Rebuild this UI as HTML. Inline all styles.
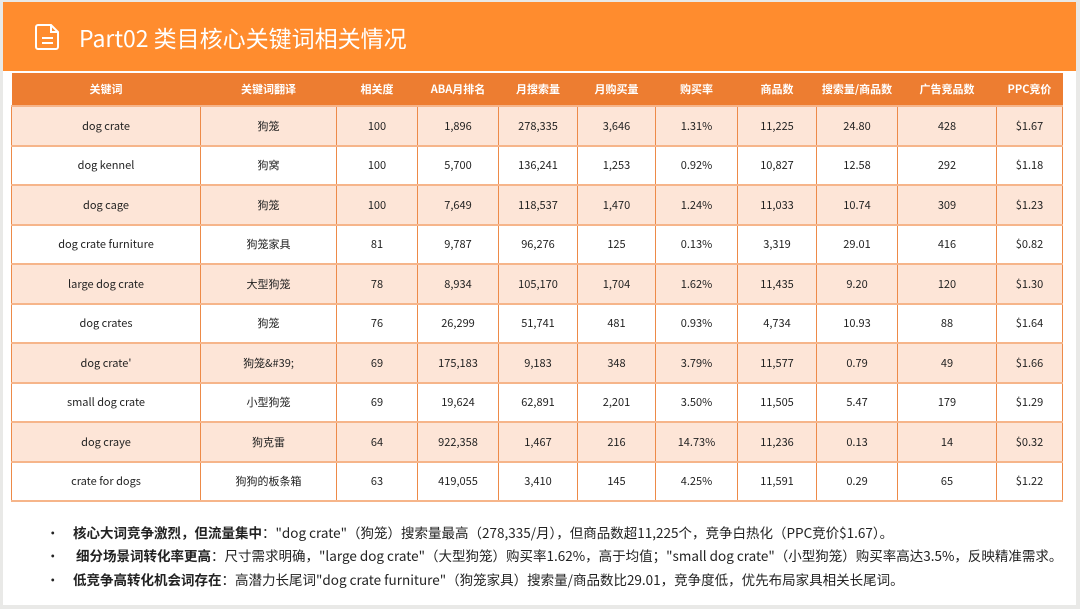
<!DOCTYPE html>
<html><head><meta charset="utf-8">
<style>
*{margin:0;padding:0;box-sizing:border-box}
body{width:1080px;height:609px;background:#e9e9e7;font-family:"Liberation Sans","Noto Sans CJK SC",sans-serif;position:relative;overflow:hidden}
#slide{position:absolute;left:3px;top:2px;width:1073px;height:603px;background:#fff}
#hdr{position:absolute;left:3px;top:2px;width:1073px;height:69px;background:#ff8c2e}
#title{position:absolute;left:79px;top:21px;color:#fff;font-size:23px;line-height:32px;font-family:"Noto Sans CJK SC","Liberation Sans",sans-serif}
#icon{position:absolute;left:35px;top:23px}
table{position:absolute;left:11px;top:73px;border-collapse:collapse;table-layout:fixed;font-family:"Noto Sans CJK SC","Liberation Sans",sans-serif}
th{background:#ed7d31;color:#fff;font-size:11px;font-weight:bold;height:33px;text-align:center}
td{font-size:11px;color:#222;height:39.5px;text-align:center;border-left:1px solid #ed8a48;border-right:1px solid #ed8a48;border-top:2px solid #f6b58a;border-bottom:2px solid #f6b58a}
tr.o td{background:#fde5d7}
tr.e td{background:#fff}
#notes{position:absolute;left:46px;top:521px;font-size:13.5px;color:#222;font-family:"Noto Sans CJK SC","Liberation Sans",sans-serif}
#notes div{height:23.3px;line-height:23.3px;white-space:nowrap}
#notes span.b{display:inline-block;width:27px}
</style></head><body>
<div id="slide"></div>
<div id="hdr"></div>
<svg id="icon" width="26" height="28"><path d="M3 2h13l7 7v15a2 2 0 0 1-2 2H3a2 2 0 0 1-2-2V4a2 2 0 0 1 2-2z" fill="none" stroke="#fff" stroke-width="2"/><path d="M16 2v7h7M7 15h11M7 20h11" fill="none" stroke="#fff" stroke-width="2"/></svg>
<div id="title">Part02 类目核心关键词相关情况</div>
<table>
<colgroup><col style="width:189px"><col style="width:136px"><col style="width:81px"><col style="width:81px"><col style="width:79px"><col style="width:78px"><col style="width:82px"><col style="width:79px"><col style="width:81px"><col style="width:99px"><col style="width:66px"></colgroup>
<tr><th>关键词</th><th>关键词翻译</th><th>相关度</th><th>ABA月排名</th><th>月搜索量</th><th>月购买量</th><th>购买率</th><th>商品数</th><th>搜索量/商品数</th><th>广告竞品数</th><th>PPC竞价</th></tr>
<tr class="o"><td>dog crate</td><td>狗笼</td><td>100</td><td>1,896</td><td>278,335</td><td>3,646</td><td>1.31%</td><td>11,225</td><td>24.80</td><td>428</td><td>$1.67</td></tr>
<tr class="e"><td>dog kennel</td><td>狗窝</td><td>100</td><td>5,700</td><td>136,241</td><td>1,253</td><td>0.92%</td><td>10,827</td><td>12.58</td><td>292</td><td>$1.18</td></tr>
<tr class="o"><td>dog cage</td><td>狗笼</td><td>100</td><td>7,649</td><td>118,537</td><td>1,470</td><td>1.24%</td><td>11,033</td><td>10.74</td><td>309</td><td>$1.23</td></tr>
<tr class="e"><td>dog crate furniture</td><td>狗笼家具</td><td>81</td><td>9,787</td><td>96,276</td><td>125</td><td>0.13%</td><td>3,319</td><td>29.01</td><td>416</td><td>$0.82</td></tr>
<tr class="o"><td>large dog crate</td><td>大型狗笼</td><td>78</td><td>8,934</td><td>105,170</td><td>1,704</td><td>1.62%</td><td>11,435</td><td>9.20</td><td>120</td><td>$1.30</td></tr>
<tr class="e"><td>dog crates</td><td>狗笼</td><td>76</td><td>26,299</td><td>51,741</td><td>481</td><td>0.93%</td><td>4,734</td><td>10.93</td><td>88</td><td>$1.64</td></tr>
<tr class="o"><td>dog crate'</td><td>狗笼&amp;#39;</td><td>69</td><td>175,183</td><td>9,183</td><td>348</td><td>3.79%</td><td>11,577</td><td>0.79</td><td>49</td><td>$1.66</td></tr>
<tr class="e"><td>small dog crate</td><td>小型狗笼</td><td>69</td><td>19,624</td><td>62,891</td><td>2,201</td><td>3.50%</td><td>11,505</td><td>5.47</td><td>179</td><td>$1.29</td></tr>
<tr class="o"><td>dog craye</td><td>狗克雷</td><td>64</td><td>922,358</td><td>1,467</td><td>216</td><td>14.73%</td><td>11,236</td><td>0.13</td><td>14</td><td>$0.32</td></tr>
<tr class="e"><td>crate for dogs</td><td>狗狗的板条箱</td><td>63</td><td>419,055</td><td>3,410</td><td>145</td><td>4.25%</td><td>11,591</td><td>0.29</td><td>65</td><td>$1.22</td></tr>
</table>
<div id="notes">
<div><span class="b">•</span><b>核心大词竞争激烈，但流量集中</b>："dog crate"（狗笼）搜索量最高（278,335/月），但商品数超11,225个，竞争白热化（PPC竞价$1.67）。</div>
<div><span class="b">•</span> <b>细分场景词转化率更高</b>：尺寸需求明确，"large dog crate"（大型狗笼）购买率1.62%，高于均值；"small dog crate"（小型狗笼）购买率高达3.5%，反映精准需求。</div>
<div><span class="b">•</span><b>低竞争高转化机会词存在</b>：高潜力长尾词"dog crate furniture"（狗笼家具）搜索量/商品数比29.01，竞争度低，优先布局家具相关长尾词。</div>
</div>
</body></html>
